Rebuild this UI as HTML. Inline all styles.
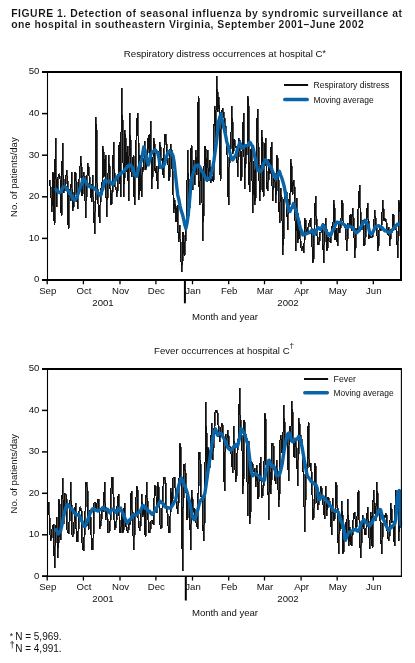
<!DOCTYPE html>
<html><head><meta charset="utf-8"><style>
html,body{margin:0;padding:0;background:#fff;}
svg{display:block;will-change:transform;}
text{font-family:"Liberation Sans",sans-serif;fill:#111;}
.ti{font-size:10.4px;font-weight:bold;stroke:#fff;stroke-width:0.1px;}
.sub{font-size:9.6px;}
.tk{font-size:9.6px;}
.lg{font-size:8.5px;}
.fn{font-size:10px;}
.sup{font-size:8px;}
</style></head><body>
<svg width="415" height="663" viewBox="0 0 415 663">
<rect width="415" height="663" fill="#fff"/>
<text x="11.2" y="16.6" class="ti" textLength="390.8" lengthAdjust="spacing">FIGURE 1. Detection of seasonal influenza by syndromic surveillance at</text>
<text x="11.2" y="28.1" class="ti" textLength="352.5" lengthAdjust="spacing">one hospital in southeastern Virginia, September 2001–June 2002</text>
<text x="123.7" y="57" class="sub" textLength="202.3" lengthAdjust="spacingAndGlyphs">Respiratory distress occurrences at hospital C<tspan dy="-1.2" style="font-size:8.6px">*</tspan></text>
<path d="M49.5,180.4 50.7,192.5 51.8,212.4 53,172.5 54.1,225.1 55.3,138.1 56.5,207 57.6,178 58.8,174.3 60,179.2 61.1,216 62.3,142.6 63.4,192.5 64.6,190.1 65.8,176.2 66.9,170 68.1,228.7 69.2,188.9 70.4,200.6 71.5,171.6 72.7,210.6 73.9,200.4 75,171.6 76.2,182.3 77.3,208.8 78.5,186 79.7,169.3 80.8,156.2 82,196.1 83.2,172.5 84.3,176.9 85.5,217.8 86.6,181.8 87.8,163.5 89,175.5 90.1,185.8 91.3,201.5 92.4,175 93.6,217.8 94.8,234.4 95.9,117 97.1,188.4 98.2,206.6 99.4,222.5 100.6,188.3 101.7,195 102.9,146 104,176.7 105.2,155.5 106.4,217.4 107.5,186.9 108.7,154.8 109.8,185 111,205 112.2,190.5 113.3,142 114.5,186.7 115.7,187.3 116.8,197.2 118,173.9 119.1,142.2 120.3,197.2 121.5,88.2 122.6,144.8 123.8,197.2 124.9,130.2 126.1,172.4 127.3,145.6 128.4,201 129.6,113 130.7,170.2 131.9,176.5 133.1,155.2 134.2,205 135.4,162.5 136.5,122 137.7,113 138.9,199.6 140,155.1 141.2,197.2 142.3,166.8 143.5,170.3 144.7,141.2 145.8,170.2 147,155 148.2,135.4 149.3,153.7 150.5,121 151.6,188.5 152.8,161.8 153.9,138 155.1,173.3 156.3,166.5 157.4,188.5 158.6,155.2 159.8,142 160.9,160.2 162.1,159.3 163.2,177.8 164.4,134 165.6,134.1 166.7,155 167.9,162.6 169,180.5 170.2,143.7 171.4,151.8 172.5,182 173.7,213 174.8,200 176,222 177.2,205 178.3,242 179.5,225 180.7,258 181.8,271.6 183,232 184.1,255.7 185.3,238 186.4,212 187.6,150 188.8,216 189.9,190 191.1,145 192.2,190 193.4,160 194.6,185 195.7,150 196.9,175 198.1,96.1 199.2,205 200.4,170 201.5,175 202.7,241.4 203.9,168 205,146 206.2,182 207.3,150 208.5,181 209.7,160 210.8,182.6 212,175.8 213.1,181.9 214.3,106.4 215.5,139.9 216.6,76.3 217.8,112 218.9,97 220.1,180.5 221.3,113.5 222.4,108.2 223.6,115.5 224.8,122.1 225.9,135.8 227.1,156.6 228.2,205 229.4,149.1 230.6,148.2 231.7,105.6 232.9,153.9 234,138.9 235.2,147.1 236.4,146.6 237.5,176.6 238.7,138 239.8,144.2 241,180.5 242.2,146.2 243.3,113.5 244.5,188.5 245.6,144.9 246.8,155.1 248,96.1 249.1,192.4 250.3,152.2 251.4,147.2 252.6,213 253.8,161.5 254.9,205 256.1,163.5 257.2,108.8 258.4,160 259.6,201 260.7,177.5 261.9,130.2 263.1,197.2 264.2,153.1 265.4,138 266.5,188.2 267.7,190.8 268.9,158.7 270,174 271.2,142 272.3,201 273.5,182.2 274.7,172.8 275.8,203.2 277,155.5 278.1,179.1 279.3,222.5 280.5,188.3 281.6,203.2 282.8,255 283.9,199.8 285.1,190.9 286.3,192.7 287.4,230.4 288.6,199 289.7,204.8 290.9,159.4 292.1,194.7 293.2,179.6 294.4,189.1 295.6,251 296.7,197.6 297.9,242.7 299,219 300.2,242.4 301.4,251 302.5,245.6 303.7,252.7 304.8,217.7 306,228.6 307.1,233.9 308.3,225.3 309.5,221.7 310.6,217.7 311.8,244.1 313,262.9 314.1,225.9 315.3,196.4 316.4,226.8 317.6,244.6 318.8,244.7 319.9,232.7 321.1,231.7 322.2,223.4 323.4,262.9 324.6,227.4 325.7,217.7 326.9,251 328,237.2 329.2,241.6 330.4,242.6 331.5,227.2 332.7,229.5 333.9,200.3 335,240.3 336.2,228.4 337.3,246.2 338.5,223.9 339.6,233.2 340.8,222.3 342,200.4 343.1,223.1 344.3,224 345.4,229.5 346.6,250.5 347.8,224.4 348.9,226.4 350.1,213.7 351.2,230.9 352.4,208.2 353.6,225.1 354.7,258.3 355.9,228.2 357.1,233.2 358.2,203.9 359.4,184.7 360.5,226.2 361.7,230.2 362.9,220.2 364,245.8 365.2,236.5 366.3,217.1 367.5,202.6 368.7,238.7 369.8,235.2 371,238 372.1,237.1 373.3,231.1 374.5,209.8 375.6,223.8 376.8,232.9 377.9,250.5 379.1,228.1 380.3,229.7 381.4,223.6 382.6,200.4 383.8,221.3 384.9,218.7 386.1,222.6 387.2,234.9 388.4,226.6 389.6,245.8 390.7,230.8 391.9,232.9 393,213.7 394.2,228.9 395.4,224.5 396.5,234.2 397.7,258.3 398.8,200.4 400,211.6" fill="none" stroke="#111" stroke-width="1" shape-rendering="crispEdges"/>
<path d="M49.5,180.4 50.7,192.5 51.8,212.4 53,172.5 54.1,225.1 55.3,138.1 56.5,207 57.6,178 58.8,174.3 60,179.2 61.1,216 62.3,142.6 63.4,192.5 64.6,190.1 65.8,176.2 66.9,170 68.1,228.7 69.2,188.9 70.4,200.6 71.5,171.6 72.7,210.6 73.9,200.4 75,171.6 76.2,182.3 77.3,208.8 78.5,186 79.7,169.3 80.8,156.2 82,196.1 83.2,172.5 84.3,176.9 85.5,217.8 86.6,181.8 87.8,163.5 89,175.5 90.1,185.8 91.3,201.5 92.4,175 93.6,217.8 94.8,234.4 95.9,117 97.1,188.4 98.2,206.6 99.4,222.5 100.6,188.3 101.7,195 102.9,146 104,176.7 105.2,155.5 106.4,217.4 107.5,186.9 108.7,154.8 109.8,185 111,205 112.2,190.5 113.3,142 114.5,186.7 115.7,187.3 116.8,197.2 118,173.9 119.1,142.2 120.3,197.2 121.5,88.2 122.6,144.8 123.8,197.2 124.9,130.2 126.1,172.4 127.3,145.6 128.4,201 129.6,113 130.7,170.2 131.9,176.5 133.1,155.2 134.2,205 135.4,162.5 136.5,122 137.7,113 138.9,199.6 140,155.1 141.2,197.2 142.3,166.8 143.5,170.3 144.7,141.2 145.8,170.2 147,155 148.2,135.4 149.3,153.7 150.5,121 151.6,188.5 152.8,161.8 153.9,138 155.1,173.3 156.3,166.5 157.4,188.5 158.6,155.2 159.8,142 160.9,160.2 162.1,159.3 163.2,177.8 164.4,134 165.6,134.1 166.7,155 167.9,162.6 169,180.5 170.2,143.7 171.4,151.8 172.5,182 173.7,213 174.8,200 176,222 177.2,205 178.3,242 179.5,225 180.7,258 181.8,271.6 183,232 184.1,255.7 185.3,238 186.4,212 187.6,150 188.8,216 189.9,190 191.1,145 192.2,190 193.4,160 194.6,185 195.7,150 196.9,175 198.1,96.1 199.2,205 200.4,170 201.5,175 202.7,241.4 203.9,168 205,146 206.2,182 207.3,150 208.5,181 209.7,160 210.8,182.6 212,175.8 213.1,181.9 214.3,106.4 215.5,139.9 216.6,76.3 217.8,112 218.9,97 220.1,180.5 221.3,113.5 222.4,108.2 223.6,115.5 224.8,122.1 225.9,135.8 227.1,156.6 228.2,205 229.4,149.1 230.6,148.2 231.7,105.6 232.9,153.9 234,138.9 235.2,147.1 236.4,146.6 237.5,176.6 238.7,138 239.8,144.2 241,180.5 242.2,146.2 243.3,113.5 244.5,188.5 245.6,144.9 246.8,155.1 248,96.1 249.1,192.4 250.3,152.2 251.4,147.2 252.6,213 253.8,161.5 254.9,205 256.1,163.5 257.2,108.8 258.4,160 259.6,201 260.7,177.5 261.9,130.2 263.1,197.2 264.2,153.1 265.4,138 266.5,188.2 267.7,190.8 268.9,158.7 270,174 271.2,142 272.3,201 273.5,182.2 274.7,172.8 275.8,203.2 277,155.5 278.1,179.1 279.3,222.5 280.5,188.3 281.6,203.2 282.8,255 283.9,199.8 285.1,190.9 286.3,192.7 287.4,230.4 288.6,199 289.7,204.8 290.9,159.4 292.1,194.7 293.2,179.6 294.4,189.1 295.6,251 296.7,197.6 297.9,242.7 299,219 300.2,242.4 301.4,251 302.5,245.6 303.7,252.7 304.8,217.7 306,228.6 307.1,233.9 308.3,225.3 309.5,221.7 310.6,217.7 311.8,244.1 313,262.9 314.1,225.9 315.3,196.4 316.4,226.8 317.6,244.6 318.8,244.7 319.9,232.7 321.1,231.7 322.2,223.4 323.4,262.9 324.6,227.4 325.7,217.7 326.9,251 328,237.2 329.2,241.6 330.4,242.6 331.5,227.2 332.7,229.5 333.9,200.3 335,240.3 336.2,228.4 337.3,246.2 338.5,223.9 339.6,233.2 340.8,222.3 342,200.4 343.1,223.1 344.3,224 345.4,229.5 346.6,250.5 347.8,224.4 348.9,226.4 350.1,213.7 351.2,230.9 352.4,208.2 353.6,225.1 354.7,258.3 355.9,228.2 357.1,233.2 358.2,203.9 359.4,184.7 360.5,226.2 361.7,230.2 362.9,220.2 364,245.8 365.2,236.5 366.3,217.1 367.5,202.6 368.7,238.7 369.8,235.2 371,238 372.1,237.1 373.3,231.1 374.5,209.8 375.6,223.8 376.8,232.9 377.9,250.5 379.1,228.1 380.3,229.7 381.4,223.6 382.6,200.4 383.8,221.3 384.9,218.7 386.1,222.6 387.2,234.9 388.4,226.6 389.6,245.8 390.7,230.8 391.9,232.9 393,213.7 394.2,228.9 395.4,224.5 396.5,234.2 397.7,258.3 398.8,200.4 400,211.6" fill="none" stroke="#111" stroke-width="1" shape-rendering="crispEdges" opacity="0.75" transform="translate(0.9 0)"/>
<path d="M56,189.4 57.2,191 58.3,191.9 59.5,192.7 60.7,191.8 61.9,189.6 63,187.2 64.2,187 65.4,187 66.5,187.9 67.7,190.5 68.9,191.2 70,193.9 71.2,195.4 72.4,197.8 73.5,199.1 74.7,200.2 75.9,199.1 77.1,196.4 78.2,193.5 79.4,190.3 80.6,186.4 81.7,184 82.9,179 84.1,179 85.2,180.6 86.4,183.6 87.6,184.3 88.8,186 89.9,186.7 91.1,186.8 92.3,187.5 93.4,187.5 94.6,188.9 95.8,189.6 97,191.7 98.1,193.1 99.3,193.9 100.5,195.7 101.6,191.7 102.8,188.8 104,182.8 105.1,180.2 106.3,180.6 107.5,181.8 108.7,181.6 109.8,181.2 111,182.7 112.2,184.2 113.3,183.7 114.5,181.2 115.7,179.5 116.8,177.4 118,176.2 119.2,174.7 120.3,172.9 121.5,173.1 122.7,172.3 123.9,171.3 125,169.5 126.2,168.3 127.4,166.2 128.5,166.3 129.7,164.9 130.9,165.5 132.1,166.8 133.2,170.1 134.4,174.1 135.6,176.3 136.7,176.2 137.9,171.4 139.1,166.8 140.2,163.5 141.4,160.6 142.6,154 143.8,146.9 144.9,149.6 146.1,156.3 147.3,161.4 148.4,164.9 149.6,160.4 150.8,154.4 151.9,152.2 153.1,151.6 154.3,150.3 155.5,150.2 156.6,152 157.8,153 159,158.3 160.1,166 161.3,167.6 162.5,166.4 163.7,165.7 164.8,163.3 166,158.1 167.2,154.9 168.3,151.9 169.5,151.5 170.7,152.1 171.8,153.2 173,155.7 174.2,162.4 175.3,173.7 176.5,184.2 177.7,194.8 178.9,199.9 180,205.6 181.2,210.8 182.4,214.1 183.5,218.5 184.7,224.3 185.9,228.4 187.1,222.7 188.2,214.9 189.4,202.9 190.6,188.1 191.7,177.7 192.9,174.3 194.1,170 195.2,165.8 196.4,166 197.6,165 198.8,165.5 199.9,167.1 201.1,169.7 202.3,172 203.4,173.5 204.6,176.2 205.8,178.5 206.9,180.2 208.1,178.9 209.3,178.3 210.4,177.6 211.6,173.1 212.8,167 214,160.3 215.1,151.7 216.3,143.3 217.5,132.4 218.6,121.8 219.8,117.2 221,114 222.2,119.8 223.3,125 224.5,130.1 225.7,135.8 226.8,141.9 228,145.6 229.2,150.1 230.3,154.3 231.5,158.5 232.7,160 233.8,158.2 235,156.2 236.2,154.3 237.4,149.1 238.5,146.7 239.7,142.6 240.9,145.1 242,148.2 243.2,147.9 244.4,146.1 245.6,145.7 246.7,145.8 247.9,145.3 249.1,142.9 250.2,142.4 251.4,144.8 252.6,146.1 253.7,150.6 254.9,157.3 256.1,162.7 257.2,168.2 258.4,170.7 259.6,170.8 260.8,171.5 261.9,169.2 263.1,164.8 264.3,162.2 265.4,159.8 266.6,160.5 267.8,162.6 268.9,165.5 270.1,166.1 271.3,167.7 272.5,171.5 273.6,173.8 274.8,176.9 276,178.9 277.1,176.6 278.3,173.3 279.5,171.4 280.6,175.1 281.8,178 283,182.1 284.2,186.4 285.3,192.6 286.5,199.8 287.7,205.5 288.8,210.8 290,211.4 291.2,208.3 292.4,206.9 293.5,203.5 294.7,207.8 295.9,210.4 297,214.9 298.2,219 299.4,224.2 300.5,228.9 301.7,231.1 302.9,234.9 304.1,234.1 305.2,233.8 306.4,233.8 307.6,233.2 308.7,232.5 309.9,232.6 311.1,231.2 312.2,229.9 313.4,231.5 314.6,234.3 315.8,231.3 316.9,229.5 318.1,227.8 319.3,228.2 320.4,229.5 321.6,228.2 322.8,225.1 323.9,225.5 325.1,228.7 326.3,231.6 327.5,233.5 328.6,233.6 329.8,235.7 331,235.1 332.1,231.5 333.3,229.4 334.5,226.7 335.6,224.2 336.8,222.3 338,222.4 339.2,222.8 340.3,222.1 341.5,222.9 342.7,223.7 343.8,224.5 345,225.2 346.2,227.4 347.4,227.2 348.5,225.9 349.7,226.6 350.9,226.9 352,227.5 353.2,228.1 354.4,230.4 355.5,232.2 356.7,232.8 357.9,231.5 359.1,230.8 360.2,228.2 361.4,226.1 362.6,223.8 363.7,222.1 364.9,220.4 366.1,221.4 367.2,224.1 368.4,226.8 369.6,232.2 370.8,234 371.9,233.9 373.1,231.8 374.3,229.1 375.4,226.9 376.6,226.4 377.8,226 378.9,225.7 380.1,226.8 381.3,227.1 382.4,227.9 383.6,229.6 384.8,230.8 386,230.5 387.1,231.8 388.3,231.9 389.5,232.6 390.6,232.3 391.8,230 393,229.4 394.1,228 395.3,226.1 396.5,225.3 397.7,224 398.8,224.3 400,223.3" fill="none" stroke="#0a64a8" stroke-width="3.4" stroke-linejoin="round" stroke-linecap="round"/>
<line x1="47.5" y1="72" x2="47.5" y2="280" stroke="#000" stroke-width="1.1"/>
<line x1="42" y1="72" x2="402.0" y2="72" stroke="#000" stroke-width="2"/>
<line x1="401" y1="72" x2="401" y2="281.0" stroke="#000" stroke-width="2"/>
<line x1="42" y1="280" x2="402.0" y2="280" stroke="#000" stroke-width="2"/>
<line x1="42" y1="280" x2="47.5" y2="280" stroke="#000" stroke-width="1.5"/>
<text x="39.4" y="282.3" class="tk" text-anchor="end">0</text>
<line x1="42" y1="238.4" x2="47.5" y2="238.4" stroke="#000" stroke-width="1.5"/>
<text x="39.4" y="240.7" class="tk" text-anchor="end">10</text>
<line x1="42" y1="196.8" x2="47.5" y2="196.8" stroke="#000" stroke-width="1.5"/>
<text x="39.4" y="199.1" class="tk" text-anchor="end">20</text>
<line x1="42" y1="155.2" x2="47.5" y2="155.2" stroke="#000" stroke-width="1.5"/>
<text x="39.4" y="157.5" class="tk" text-anchor="end">30</text>
<line x1="42" y1="113.6" x2="47.5" y2="113.6" stroke="#000" stroke-width="1.5"/>
<text x="39.4" y="115.9" class="tk" text-anchor="end">40</text>
<line x1="42" y1="72" x2="47.5" y2="72" stroke="#000" stroke-width="1.5"/>
<text x="39.4" y="74.3" class="tk" text-anchor="end">50</text>
<line x1="47.2" y1="280" x2="47.2" y2="284.3" stroke="#000" stroke-width="1.3"/>
<text x="47.7" y="294.2" class="tk" text-anchor="middle">Sep</text>
<line x1="83.4" y1="280" x2="83.4" y2="284.3" stroke="#000" stroke-width="1.3"/>
<text x="83.9" y="294.2" class="tk" text-anchor="middle">Oct</text>
<line x1="120" y1="280" x2="120" y2="284.3" stroke="#000" stroke-width="1.3"/>
<text x="120.5" y="294.2" class="tk" text-anchor="middle">Nov</text>
<line x1="155.9" y1="280" x2="155.9" y2="284.3" stroke="#000" stroke-width="1.3"/>
<text x="156.4" y="294.2" class="tk" text-anchor="middle">Dec</text>
<line x1="192.5" y1="280" x2="192.5" y2="284.3" stroke="#000" stroke-width="1.3"/>
<text x="193.0" y="294.2" class="tk" text-anchor="middle">Jan</text>
<line x1="228.7" y1="280" x2="228.7" y2="284.3" stroke="#000" stroke-width="1.3"/>
<text x="229.2" y="294.2" class="tk" text-anchor="middle">Feb</text>
<line x1="264.5" y1="280" x2="264.5" y2="284.3" stroke="#000" stroke-width="1.3"/>
<text x="265.0" y="294.2" class="tk" text-anchor="middle">Mar</text>
<line x1="301.1" y1="280" x2="301.1" y2="284.3" stroke="#000" stroke-width="1.3"/>
<text x="301.6" y="294.2" class="tk" text-anchor="middle">Apr</text>
<line x1="337.2" y1="280" x2="337.2" y2="284.3" stroke="#000" stroke-width="1.3"/>
<text x="337.7" y="294.2" class="tk" text-anchor="middle">May</text>
<line x1="373.3" y1="280" x2="373.3" y2="284.3" stroke="#000" stroke-width="1.3"/>
<text x="373.8" y="294.2" class="tk" text-anchor="middle">Jun</text>
<line x1="184.9" y1="280" x2="184.9" y2="303.3" stroke="#000" stroke-width="2"/>
<text x="103" y="305.8" class="tk" text-anchor="middle">2001</text>
<text x="288" y="305.8" class="tk" text-anchor="middle">2002</text>
<text x="192" y="320.1" class="tk" textLength="66" lengthAdjust="spacing">Month and year</text>
<text x="0" y="0" class="tk" text-anchor="middle" transform="translate(16.8 177.1) rotate(-90)" textLength="79.6" lengthAdjust="spacingAndGlyphs">No. of patients/day</text>
<line x1="284" y1="85" x2="308.1" y2="85" stroke="#000" stroke-width="1.9"/>
<line x1="284.7" y1="99.5" x2="307.3" y2="99.5" stroke="#0a64a8" stroke-width="3.4" stroke-linecap="round"/>
<text x="313.5" y="88.3" class="lg" textLength="75.8" lengthAdjust="spacingAndGlyphs">Respiratory distress</text>
<text x="313.5" y="103.2" class="lg" textLength="60.2" lengthAdjust="spacingAndGlyphs">Moving average</text>
<text x="154.1" y="354.4" class="sub" textLength="135.5" lengthAdjust="spacingAndGlyphs">Fever occurrences at hospital C</text>
<text x="289.4" y="347.6" class="sup">†</text>
<path d="M48.5,502.3 49.7,532.8 50.8,541.3 52,529 53.2,524.4 54.3,567.6 55.5,531.1 56.6,517 57.8,558.2 59,499.1 60.1,539.9 61.3,520.6 62.5,477.6 63.6,524.4 64.8,493.8 66,495 67.1,532.8 68.3,533 69.5,515.2 70.6,482.2 71.8,535 72.9,536.7 74.1,520.4 75.3,503.3 76.4,541.5 77.6,541.3 78.8,512.4 79.9,507.3 81.1,510.7 82.2,549.7 83.4,550 84.6,525.3 85.8,482.4 86.9,482.2 88.1,529.7 89.2,509.7 90.4,520 91.6,549.7 92.7,550 93.9,503.3 95.1,502.5 96.2,509.3 97.4,500.1 98.5,499.6 99.7,528.6 100.9,522.4 102,507.9 103.2,511.9 104.4,482.2 105.5,520.2 106.7,511.3 107.9,532.8 109,532.7 110.2,519.1 111.3,477.2 112.5,477.6 113.7,515.8 114.8,529.7 116,522.2 117.2,503.2 118.3,493.8 119.5,532.1 120.7,532.8 121.8,513.4 123,532.8 124.2,503.3 125.3,523.1 126.5,528.8 127.7,533.3 128.8,523.3 130,525 131.1,490.7 132.3,515.8 133.5,549.7 134.6,523.6 135.8,499.6 137,486.4 138.1,520.6 139.3,530.8 140.4,524.4 141.6,493.8 142.8,516.6 143.9,506.8 145.1,537.1 146.3,482.2 147.4,506.9 148.6,532.8 149.8,532.2 150.9,521.2 152.1,520.2 153.2,524.6 154.4,485.4 155.6,486.4 156.7,513 157.9,482.2 159.1,507.6 160.2,528.6 161.4,527.4 162.6,490.5 163.7,477.6 164.9,477.3 166.1,508.4 167.2,514.2 168.4,532.2 169.6,532.8 170.7,488.4 171.9,503.7 173,477.6 174.2,477.3 175.4,493.1 176.5,504.6 177.7,514.1 178.9,482.4 180,443.5 181.2,486.2 182.3,570.9 183.5,464.7 184.7,464 185.8,486.9 187,520.2 188.2,496.9 189.3,500.3 190.5,549.7 191.7,490.1 192.8,513.3 194,508 195.2,519.2 196.3,524.4 197.5,528.6 198.6,452.7 199.8,452.4 201,496.5 202.1,499 203.3,541.3 204.5,513.9 205.6,401.7 206.8,472.6 208,447.3 209.1,468.6 210.3,456.8 211.4,422.8 212.6,460.4 213.8,431.8 214.9,412.4 216.1,410.3 217.3,413.3 218.4,430.6 219.6,442.2 220.8,428.2 221.9,422.8 223.1,437.3 224.2,490.7 225.4,434.3 226.6,442.5 227.7,430.2 228.9,446.6 230.1,447.2 231.2,455.2 232.4,472.7 233.6,426 234.7,466.1 235.9,481.5 237.1,450.2 238.2,436.8 239.4,388.4 240.5,436.7 241.7,435.5 242.9,493.8 244,420.2 245.2,435.1 246.4,438.6 247.5,516 248.7,440.6 249.9,524.4 251,461.4 252.2,464 253.3,472.1 254.5,468.4 255.7,486.9 256.8,465 258,499.1 259.2,479.2 260.3,457.2 261.5,497.2 262.7,494.9 263.8,471.2 265,413.3 266.1,469.9 267.3,459.7 268.5,520.2 269.6,459.9 270.8,493.9 272,443.3 273.1,446 274.3,477.1 275.5,483.6 276.6,460.2 277.8,485.6 278.9,506.6 280.1,434.8 281.3,439.8 282.4,460.8 283.6,405.3 284.8,442.7 285.9,441.3 287.1,433.6 288.3,481.3 289.4,425.9 290.6,438.6 291.8,401.1 292.9,439 294.1,457.9 295.2,439.6 296.4,450.9 297.6,485.5 298.7,418.3 299.9,434.2 301.1,439 302.2,452.8 303.4,480.4 304.6,531.9 305.7,464.3 306.9,477.7 308.1,422.2 309.2,466.4 310.4,463.2 311.5,476.5 312.7,520.3 313.9,513.8 315,463.3 316.2,488.9 317.4,509.8 318.5,501.8 319.7,494.4 320.9,486.5 322,495.1 323.2,506.3 324.4,519.3 325.5,486.5 326.7,515.7 327.8,496.9 329,500.6 330.2,505.5 331.3,535.1 332.5,497.8 333.7,520.8 334.8,516.9 336,482.3 337.1,507 338.3,553.9 339.5,520.8 340.6,528.9 341.8,501.2 343,553.9 344.1,538 345.3,522.4 346.5,535.7 347.6,499 348.8,546.3 349.9,526.6 351.1,546.1 352.3,532.9 353.4,513.9 354.6,512.8 355.8,531 356.9,518.4 358.1,490.2 359.3,529.3 360.4,557.8 361.6,533.5 362.8,515.3 363.9,528.2 365.1,535 366.2,526.5 367.4,506.9 368.6,530.8 369.7,549 370.9,512.3 372.1,548.4 373.2,490.2 374.4,507.5 375.6,521 376.7,482.4 377.9,513.4 379.1,511.4 380.2,523.3 381.4,553.9 382.5,528.4 383.7,514.7 384.9,517.6 386,513.3 387.2,533.8 388.4,541.2 389.5,533.2 390.7,502.9 391.9,521.9 393,521.4 394.2,546.1 395.3,490.2 396.5,514 397.7,492.9 398.8,541.2 400,490.2" fill="none" stroke="#111" stroke-width="1" shape-rendering="crispEdges"/>
<path d="M48.5,502.3 49.7,532.8 50.8,541.3 52,529 53.2,524.4 54.3,567.6 55.5,531.1 56.6,517 57.8,558.2 59,499.1 60.1,539.9 61.3,520.6 62.5,477.6 63.6,524.4 64.8,493.8 66,495 67.1,532.8 68.3,533 69.5,515.2 70.6,482.2 71.8,535 72.9,536.7 74.1,520.4 75.3,503.3 76.4,541.5 77.6,541.3 78.8,512.4 79.9,507.3 81.1,510.7 82.2,549.7 83.4,550 84.6,525.3 85.8,482.4 86.9,482.2 88.1,529.7 89.2,509.7 90.4,520 91.6,549.7 92.7,550 93.9,503.3 95.1,502.5 96.2,509.3 97.4,500.1 98.5,499.6 99.7,528.6 100.9,522.4 102,507.9 103.2,511.9 104.4,482.2 105.5,520.2 106.7,511.3 107.9,532.8 109,532.7 110.2,519.1 111.3,477.2 112.5,477.6 113.7,515.8 114.8,529.7 116,522.2 117.2,503.2 118.3,493.8 119.5,532.1 120.7,532.8 121.8,513.4 123,532.8 124.2,503.3 125.3,523.1 126.5,528.8 127.7,533.3 128.8,523.3 130,525 131.1,490.7 132.3,515.8 133.5,549.7 134.6,523.6 135.8,499.6 137,486.4 138.1,520.6 139.3,530.8 140.4,524.4 141.6,493.8 142.8,516.6 143.9,506.8 145.1,537.1 146.3,482.2 147.4,506.9 148.6,532.8 149.8,532.2 150.9,521.2 152.1,520.2 153.2,524.6 154.4,485.4 155.6,486.4 156.7,513 157.9,482.2 159.1,507.6 160.2,528.6 161.4,527.4 162.6,490.5 163.7,477.6 164.9,477.3 166.1,508.4 167.2,514.2 168.4,532.2 169.6,532.8 170.7,488.4 171.9,503.7 173,477.6 174.2,477.3 175.4,493.1 176.5,504.6 177.7,514.1 178.9,482.4 180,443.5 181.2,486.2 182.3,570.9 183.5,464.7 184.7,464 185.8,486.9 187,520.2 188.2,496.9 189.3,500.3 190.5,549.7 191.7,490.1 192.8,513.3 194,508 195.2,519.2 196.3,524.4 197.5,528.6 198.6,452.7 199.8,452.4 201,496.5 202.1,499 203.3,541.3 204.5,513.9 205.6,401.7 206.8,472.6 208,447.3 209.1,468.6 210.3,456.8 211.4,422.8 212.6,460.4 213.8,431.8 214.9,412.4 216.1,410.3 217.3,413.3 218.4,430.6 219.6,442.2 220.8,428.2 221.9,422.8 223.1,437.3 224.2,490.7 225.4,434.3 226.6,442.5 227.7,430.2 228.9,446.6 230.1,447.2 231.2,455.2 232.4,472.7 233.6,426 234.7,466.1 235.9,481.5 237.1,450.2 238.2,436.8 239.4,388.4 240.5,436.7 241.7,435.5 242.9,493.8 244,420.2 245.2,435.1 246.4,438.6 247.5,516 248.7,440.6 249.9,524.4 251,461.4 252.2,464 253.3,472.1 254.5,468.4 255.7,486.9 256.8,465 258,499.1 259.2,479.2 260.3,457.2 261.5,497.2 262.7,494.9 263.8,471.2 265,413.3 266.1,469.9 267.3,459.7 268.5,520.2 269.6,459.9 270.8,493.9 272,443.3 273.1,446 274.3,477.1 275.5,483.6 276.6,460.2 277.8,485.6 278.9,506.6 280.1,434.8 281.3,439.8 282.4,460.8 283.6,405.3 284.8,442.7 285.9,441.3 287.1,433.6 288.3,481.3 289.4,425.9 290.6,438.6 291.8,401.1 292.9,439 294.1,457.9 295.2,439.6 296.4,450.9 297.6,485.5 298.7,418.3 299.9,434.2 301.1,439 302.2,452.8 303.4,480.4 304.6,531.9 305.7,464.3 306.9,477.7 308.1,422.2 309.2,466.4 310.4,463.2 311.5,476.5 312.7,520.3 313.9,513.8 315,463.3 316.2,488.9 317.4,509.8 318.5,501.8 319.7,494.4 320.9,486.5 322,495.1 323.2,506.3 324.4,519.3 325.5,486.5 326.7,515.7 327.8,496.9 329,500.6 330.2,505.5 331.3,535.1 332.5,497.8 333.7,520.8 334.8,516.9 336,482.3 337.1,507 338.3,553.9 339.5,520.8 340.6,528.9 341.8,501.2 343,553.9 344.1,538 345.3,522.4 346.5,535.7 347.6,499 348.8,546.3 349.9,526.6 351.1,546.1 352.3,532.9 353.4,513.9 354.6,512.8 355.8,531 356.9,518.4 358.1,490.2 359.3,529.3 360.4,557.8 361.6,533.5 362.8,515.3 363.9,528.2 365.1,535 366.2,526.5 367.4,506.9 368.6,530.8 369.7,549 370.9,512.3 372.1,548.4 373.2,490.2 374.4,507.5 375.6,521 376.7,482.4 377.9,513.4 379.1,511.4 380.2,523.3 381.4,553.9 382.5,528.4 383.7,514.7 384.9,517.6 386,513.3 387.2,533.8 388.4,541.2 389.5,533.2 390.7,502.9 391.9,521.9 393,521.4 394.2,546.1 395.3,490.2 396.5,514 397.7,492.9 398.8,541.2 400,490.2" fill="none" stroke="#111" stroke-width="1" shape-rendering="crispEdges" opacity="0.75" transform="translate(0.9 0)"/>
<path d="M56,529.7 57.2,531.4 58.3,533.9 59.5,532.2 60.7,530.3 61.9,525.2 63,519.6 64.2,513.7 65.4,508.9 66.5,505.6 67.7,504.5 68.9,506 70.1,507.8 71.2,508.7 72.4,509.5 73.6,511.8 74.8,513.2 75.9,514.8 77.1,515.1 78.3,514.4 79.4,515.6 80.6,518.4 81.8,520.9 83,523.7 84.1,526.3 85.3,526.1 86.5,523.4 87.6,520 88.8,516.8 90,513.7 91.2,511.7 92.3,509 93.5,508.5 94.7,509.4 95.8,510 97,510.7 98.2,511 99.4,509.9 100.5,509.7 101.7,508.8 102.9,507.5 104,508.5 105.2,509.9 106.4,509.7 107.6,509.3 108.7,510.8 109.9,513 111.1,510.7 112.2,509.1 113.4,509.3 114.6,510.5 115.8,512.2 116.9,511.7 118.1,509.7 119.3,508.4 120.5,508 121.6,511 122.8,513.2 124,516.4 125.1,518.5 126.3,521.3 127.5,522.9 128.7,520.8 129.8,519.8 131,518.7 132.2,515.8 133.3,514.4 134.5,514.5 135.7,515.2 136.8,514.6 138,513 139.2,512.2 140.4,510.7 141.5,508.7 142.7,505.5 143.9,505.8 145.1,507.2 146.2,508.6 147.4,509.7 148.6,511.4 149.7,511.3 150.9,513.2 152.1,514.3 153.3,513.1 154.4,511.6 155.6,510.2 156.8,507.4 157.9,505.6 159.1,503.1 160.3,501.2 161.5,502.3 162.6,503 163.8,504.7 165,507 166.2,507.4 167.3,507.5 168.5,507.8 169.7,508 170.8,507.9 172,506.1 173.2,504.2 174.3,501.5 175.5,500.5 176.7,494.6 177.9,488.9 179,484.7 180.2,480.8 181.4,477.9 182.6,481.1 183.7,483.8 184.9,486.2 186.1,489.3 187.2,492.5 188.4,497.8 189.6,501.7 190.8,508.3 191.9,514.1 193.1,518.6 194.3,519.7 195.4,517.4 196.6,514.3 197.8,509.9 199,504.6 200.1,501.4 201.3,499.5 202.5,499 203.6,496.5 204.8,493.7 206,485.8 207.2,476.9 208.3,469.1 209.5,461.2 210.7,452.9 211.8,445.6 213,437.4 214.2,431.7 215.4,428.8 216.5,431.4 217.7,435.2 218.9,433.8 220.1,433.4 221.2,433.6 222.4,435.9 223.6,437.9 224.7,440.1 225.9,442.9 227.1,446.3 228.2,448.3 229.4,449.3 230.6,450.2 231.8,449.6 232.9,448 234.1,446.2 235.3,444.5 236.4,446.3 237.6,446.1 238.8,441.1 240,435.6 241.1,429 242.3,429.6 243.5,432.5 244.7,434 245.8,438.2 247,441.9 248.2,446.1 249.3,455.4 250.5,466.7 251.7,473.3 252.9,475.7 254,474.7 255.2,473.5 256.4,474.2 257.5,475.4 258.7,476.1 259.9,477.3 261.1,478.6 262.2,479.4 263.4,480.9 264.6,480.1 265.8,472.1 266.9,467.6 268.1,461 269.3,460.3 270.4,463.8 271.6,466.3 272.8,465.8 273.9,466.3 275.1,469.4 276.3,475.4 277.5,475.5 278.6,475.5 279.8,473.8 281,469.2 282.1,464.7 283.3,456 284.5,448.2 285.7,441.9 286.8,435.8 288,433.7 289.2,432.8 290.4,436.2 291.5,440.7 292.7,441.8 293.9,440.7 295,439.2 296.2,439.6 297.4,438.7 298.6,436.5 299.7,438.1 300.9,441.6 302.1,447.4 303.2,453.7 304.4,460.7 305.6,467.1 306.8,473.8 307.9,477 309.1,478.1 310.3,480.1 311.4,481.7 312.6,482.2 313.8,483.2 315,484.6 316.1,485 317.3,488.5 318.5,498.2 319.6,499.6 320.8,497.4 322,496 323.2,496.7 324.3,498.7 325.5,499.1 326.7,501.7 327.9,502 329,503.4 330.2,505.6 331.4,506.9 332.5,508.7 333.7,510.5 334.9,511.4 336.1,510.8 337.2,511.5 338.4,512.4 339.6,516.1 340.7,520.2 341.9,522.8 343.1,525.1 344.3,532.4 345.4,540.4 346.6,537 347.8,534.4 348.9,532.5 350.1,531.6 351.3,531.2 352.5,530.7 353.6,529.6 354.8,530 356,529.1 357.1,531 358.3,531.1 359.5,529.7 360.7,524.8 361.8,522 363,521 364.2,519.8 365.4,522 366.5,522.5 367.7,524.4 368.9,525.2 370,525.7 371.2,523.4 372.4,522.1 373.6,519.1 374.7,518.9 375.9,516.6 377.1,514.9 378.2,511.7 379.4,509.4 380.6,509.7 381.8,514.4 382.9,519 384.1,520.6 385.3,524.2 386.4,526.2 387.6,528.5 388.8,530.2 389.9,528.3 391.1,527.9 392.3,526 393.5,525 394.6,524.1 395.8,519 397,500.3 398.2,491.5 399.3,490.6 400.5,524.4" fill="none" stroke="#0a64a8" stroke-width="3.4" stroke-linejoin="round" stroke-linecap="round"/>
<line x1="47.5" y1="369" x2="47.5" y2="576.2" stroke="#000" stroke-width="1.1"/>
<line x1="42" y1="369" x2="401.95" y2="369" stroke="#000" stroke-width="1.9"/>
<line x1="401.4" y1="369" x2="401.4" y2="576.9000000000001" stroke="#000" stroke-width="1.1"/>
<line x1="42" y1="576.2" x2="401.95" y2="576.2" stroke="#000" stroke-width="1.4"/>
<line x1="42" y1="576.2" x2="47.5" y2="576.2" stroke="#000" stroke-width="1.5"/>
<text x="39.4" y="578.5" class="tk" text-anchor="end">0</text>
<line x1="42" y1="534.8" x2="47.5" y2="534.8" stroke="#000" stroke-width="1.5"/>
<text x="39.4" y="537.1" class="tk" text-anchor="end">10</text>
<line x1="42" y1="493.3" x2="47.5" y2="493.3" stroke="#000" stroke-width="1.5"/>
<text x="39.4" y="495.6" class="tk" text-anchor="end">20</text>
<line x1="42" y1="451.9" x2="47.5" y2="451.9" stroke="#000" stroke-width="1.5"/>
<text x="39.4" y="454.2" class="tk" text-anchor="end">30</text>
<line x1="42" y1="410.4" x2="47.5" y2="410.4" stroke="#000" stroke-width="1.5"/>
<text x="39.4" y="412.7" class="tk" text-anchor="end">40</text>
<line x1="42" y1="369" x2="47.5" y2="369" stroke="#000" stroke-width="1.5"/>
<text x="39.4" y="371.3" class="tk" text-anchor="end">50</text>
<line x1="47.2" y1="576.2" x2="47.2" y2="580.5" stroke="#000" stroke-width="1.3"/>
<text x="47.7" y="590.4" class="tk" text-anchor="middle">Sep</text>
<line x1="83.4" y1="576.2" x2="83.4" y2="580.5" stroke="#000" stroke-width="1.3"/>
<text x="83.9" y="590.4" class="tk" text-anchor="middle">Oct</text>
<line x1="120" y1="576.2" x2="120" y2="580.5" stroke="#000" stroke-width="1.3"/>
<text x="120.5" y="590.4" class="tk" text-anchor="middle">Nov</text>
<line x1="155.9" y1="576.2" x2="155.9" y2="580.5" stroke="#000" stroke-width="1.3"/>
<text x="156.4" y="590.4" class="tk" text-anchor="middle">Dec</text>
<line x1="192.5" y1="576.2" x2="192.5" y2="580.5" stroke="#000" stroke-width="1.3"/>
<text x="193.0" y="590.4" class="tk" text-anchor="middle">Jan</text>
<line x1="228.7" y1="576.2" x2="228.7" y2="580.5" stroke="#000" stroke-width="1.3"/>
<text x="229.2" y="590.4" class="tk" text-anchor="middle">Feb</text>
<line x1="264.5" y1="576.2" x2="264.5" y2="580.5" stroke="#000" stroke-width="1.3"/>
<text x="265.0" y="590.4" class="tk" text-anchor="middle">Mar</text>
<line x1="301.1" y1="576.2" x2="301.1" y2="580.5" stroke="#000" stroke-width="1.3"/>
<text x="301.6" y="590.4" class="tk" text-anchor="middle">Apr</text>
<line x1="337.2" y1="576.2" x2="337.2" y2="580.5" stroke="#000" stroke-width="1.3"/>
<text x="337.7" y="590.4" class="tk" text-anchor="middle">May</text>
<line x1="373.3" y1="576.2" x2="373.3" y2="580.5" stroke="#000" stroke-width="1.3"/>
<text x="373.8" y="590.4" class="tk" text-anchor="middle">Jun</text>
<line x1="185.8" y1="576.2" x2="185.8" y2="600.5" stroke="#000" stroke-width="2"/>
<text x="103" y="602" class="tk" text-anchor="middle">2001</text>
<text x="288" y="602" class="tk" text-anchor="middle">2002</text>
<text x="192" y="616.3" class="tk" textLength="66" lengthAdjust="spacing">Month and year</text>
<text x="0" y="0" class="tk" text-anchor="middle" transform="translate(16.8 473.7) rotate(-90)" textLength="79.6" lengthAdjust="spacingAndGlyphs">No. of patients/day</text>
<line x1="304" y1="379" x2="328.1" y2="379" stroke="#000" stroke-width="1.9"/>
<line x1="304.8" y1="392.8" x2="327.3" y2="392.8" stroke="#0a64a8" stroke-width="3.5" stroke-linecap="round"/>
<text x="333.5" y="381.6" class="lg" textLength="22.5" lengthAdjust="spacingAndGlyphs">Fever</text>
<text x="333.5" y="396.3" class="lg" textLength="60.2" lengthAdjust="spacingAndGlyphs">Moving average</text>
<text x="9.7" y="639" style="font-size:8.5px">*</text>
<text x="15.2" y="640.2" class="fn">N = 5,969.</text>
<text x="9.6" y="648" style="font-size:9.6px">†</text>
<text x="15.2" y="652.2" class="fn">N = 4,991.</text>
</svg>
</body></html>
